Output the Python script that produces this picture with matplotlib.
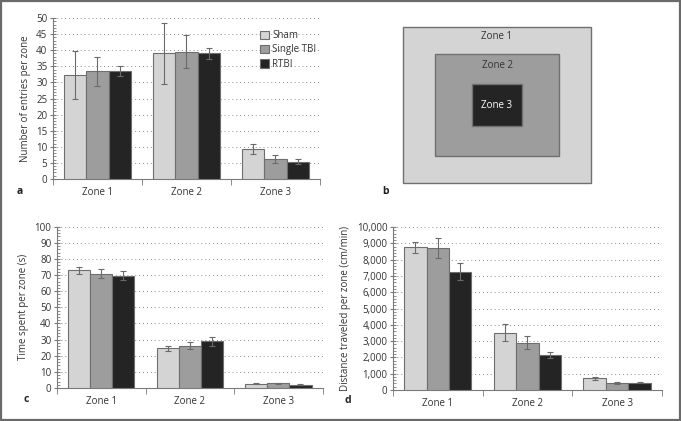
#!/usr/bin/env python3
# Open-field zone analysis: entries, zone layout, time spent, distance traveled

import numpy as np
import matplotlib
matplotlib.use("Agg")
import matplotlib.pyplot as plt
from matplotlib.patches import Rectangle
from matplotlib.ticker import MultipleLocator, FuncFormatter

# -------------------------
# Data
# -------------------------
zones = ["Zone 1", "Zone 2", "Zone 3"]
groups = ["Sham", "Single TBI", "RTBI"]
colors = ["#d4d4d4", "#9d9d9d", "#242424"]

entries_mean = [[32.3, 39.0, 9.4], [33.5, 39.6, 6.2], [33.6, 39.1, 5.4]]
entries_err = [[7.5, 9.6, 1.5], [4.5, 5.1, 1.1], [1.5, 1.7, 0.9]]

time_mean = [[73.0, 24.5, 2.7], [71.0, 26.3, 3.0], [69.7, 29.0, 2.0]]
time_err = [[2.0, 1.6, 0.5], [2.8, 2.3, 0.4], [2.8, 2.7, 0.3]]

dist_mean = [[8750, 3530, 720], [8700, 2900, 430], [7270, 2150, 450]]
dist_err = [[310, 530, 100], [620, 400, 90], [500, 160, 40]]

# zone layout (fraction of arena margin for each nested zone)
zone_margins = [0.0, 0.17, 0.365]
zone_label_y = [0.936, 0.756, 0.494]

plt.rcParams["font.family"] = ["Open Sans", "DejaVu Sans"]
TXT = "#333333"
AX = "#7a7a7a"

fig = plt.figure(figsize=(6.81, 4.21), dpi=100)
fig.add_artist(Rectangle((0.001, 0.002), 0.997, 0.996, transform=fig.transFigure,
                         fill=False, edgecolor="#6a6a6a", linewidth=1.6))


def bar_panel(rect, means, errs, ymax, major, minor, ylabel, letter, lpos, fmt=None):
    ax = fig.add_axes(rect)
    x = np.arange(len(zones))
    w = 0.25
    for i, g in enumerate(groups):
        ax.bar(x + (i - 1) * w, means[i], w, yerr=errs[i], color=colors[i],
               edgecolor="#6e6e6e", linewidth=0.8, label=g, zorder=3,
               error_kw=dict(ecolor="#6a6a6a", elinewidth=0.8, capsize=2.5, capthick=0.8))
    ax.set_xlim(-0.5, len(zones) - 0.5)
    ax.set_ylim(0, ymax)
    ax.yaxis.set_major_locator(MultipleLocator(major))
    ax.yaxis.set_minor_locator(MultipleLocator(minor))
    if fmt:
        ax.yaxis.set_major_formatter(FuncFormatter(fmt))
    ax.grid(axis="y", which="major", linestyle=(0, (1, 3)), color="#8a8a8a",
            linewidth=0.7, zorder=0)
    ax.set_axisbelow(True)
    for s in ["top", "right"]:
        ax.spines[s].set_visible(False)
    for s in ["left", "bottom"]:
        ax.spines[s].set_color(AX)
        ax.spines[s].set_linewidth(0.8)
    ax.set_xticks(x)
    ax.set_xticklabels(zones)
    ax.set_xticks(np.arange(-0.5, len(zones)), minor=True)
    ax.tick_params(axis="x", which="major", length=0, labelsize=7, colors=TXT, pad=6)
    ax.tick_params(axis="x", which="minor", length=4, color=AX, direction="out")
    ax.tick_params(axis="y", which="major", length=4, direction="inout", color=AX,
                   labelsize=7, labelcolor=TXT, pad=2)
    ax.tick_params(axis="y", which="minor", length=2, direction="in", color=AX)
    ax.set_ylabel(ylabel, fontsize=7, color=TXT, labelpad=4)
    fig.text(lpos[0], lpos[1], letter, fontsize=7.5, fontweight="bold", color="#222222",
             ha="left", va="center")
    return ax


ax_a = bar_panel([0.0778, 0.575, 0.392, 0.382], entries_mean, entries_err, 50, 5, 1,
                 "Number of entries per zone", "a", (0.024, 0.544))
leg = ax_a.legend(loc="upper right", bbox_to_anchor=(1.02, 0.98), frameon=False,
                  fontsize=7, handlelength=0.9, handleheight=0.9, handletextpad=0.4,
                  labelspacing=0.35, labelcolor=TXT)

bar_panel([0.0837, 0.0784, 0.390, 0.383], time_mean, time_err, 100, 10, 2,
          "Time spent per zone (s)", "c", (0.034, 0.05))

bar_panel([0.577, 0.0736, 0.395, 0.387], dist_mean, dist_err, 10000, 1000, 200,
          "Distance traveled per zone (cm/min)", "d", (0.506, 0.048),
          fmt=lambda v, p: f"{int(v):,}")

# -------------------------
# Panel b: arena zone layout
# -------------------------
ax_b = fig.add_axes([403 / 681, 1 - 183 / 421, 188 / 681, 156 / 421])
ax_b.set_xlim(0, 1)
ax_b.set_ylim(0, 1)
ax_b.axis("off")
for m, c, name, ly in zip(zone_margins, colors, zones, zone_label_y):
    ax_b.add_patch(Rectangle((m, m), 1 - 2 * m, 1 - 2 * m, facecolor=c,
                             edgecolor="#707070", linewidth=1.0, clip_on=False))
    ax_b.text(0.5, ly, name, ha="center", va="center", fontsize=7,
              color="white" if c == colors[-1] else TXT)
fig.text(0.562, 0.544, "b", fontsize=7.5, fontweight="bold", color="#222222",
         ha="left", va="center")

fig.savefig("out.png", dpi=100)
